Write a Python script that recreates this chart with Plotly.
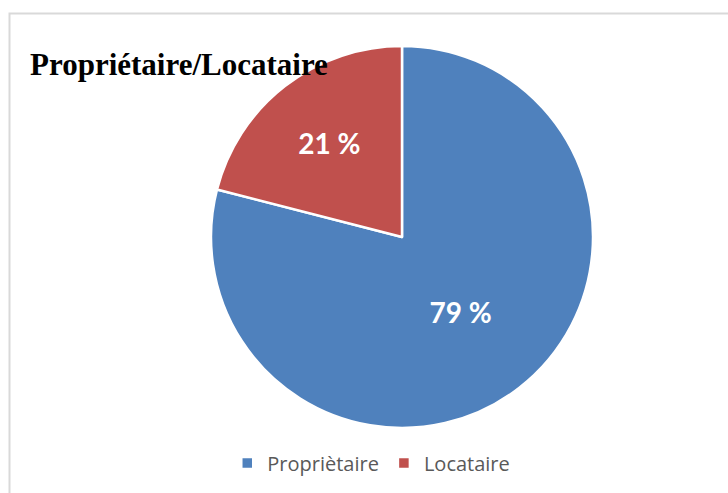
import plotly.graph_objects as go

# Occupancy status shares (percent)
labels = ["Propriètaire", "Locataire"]
values = [79, 21]
colors = ["#4f81bd", "#c0504d"]

W, H = 728, 493

fig = go.Figure(
    go.Pie(
        labels=labels,
        values=values,
        marker=dict(colors=colors, line=dict(color="white", width=2.5)),
        sort=False,
        direction="clockwise",
        rotation=0,
        texttemplate="%{value} %",
        textposition="inside",
        insidetextorientation="auto",
        textfont=dict(family="Lato", size=28, color="white", weight="bold"),
        domain=dict(x=[211 / W, 593 / W], y=[1 - 428 / H, 1 - 46 / H]),
        hoverinfo="label+percent",
    )
)

# Chart title
fig.add_annotation(
    text="<b>Propriétaire/Locataire</b>",
    x=28 / W, y=1 - 64 / H, xref="paper", yref="paper",
    xanchor="left", yanchor="middle", showarrow=False,
    font=dict(family="Liberation Serif", size=31, color="black"),
)

# Light frame around the chart area
fig.add_shape(
    type="rect", xref="paper", yref="paper",
    x0=9.5 / W, x1=1.02, y0=-0.02, y1=1 - 13.5 / H,
    line=dict(color="#d9d9d9", width=2), fillcolor="rgba(0,0,0,0)",
    layer="below",
)

fig.update_layout(
    width=W, height=H,
    margin=dict(l=0, r=0, t=0, b=0),
    paper_bgcolor="white",
    plot_bgcolor="white",
    showlegend=True,
    legend=dict(
        orientation="h", x=0.51, xanchor="center", y=1 - 463 / H, yanchor="middle",
        font=dict(family="Open Sans", size=20, color="#595959"),
        itemwidth=30, traceorder="normal",
    ),
)

fig.write_html("out.html")
